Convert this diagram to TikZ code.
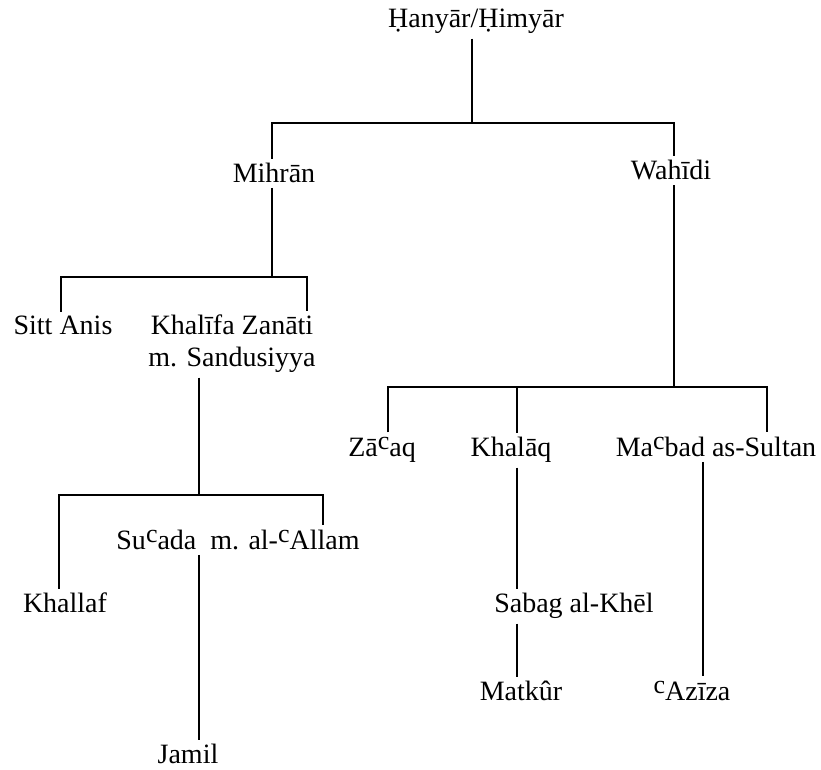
\documentclass[tikz,border=0pt]{standalone}
\usepackage{fontspec}
\setmainfont{Liberation Serif}
\usetikzlibrary{calc}
\newcommand{\ayn}{\raisebox{0.6ex}{\fontsize{13}{13}\selectfont c}}

\begin{document}
\begin{tikzpicture}[x=0.5pt,y=-0.5pt,
                person/.style={inner sep=2pt,anchor=base,
                font=\fontsize{14}{16}\selectfont,align=center},
                black,line width=0.6pt]
                \useasboundingbox (0,0) rectangle (821,770);
                % people
                \node[person] (hanyar) at (476,28) {Ḥanyār/Ḥimyār};
                \node[person] (mihran) at (274,183) {Mihrān};
                \node[person] (wahidi) at (671,180) {Wahīdi};
                \node[person] (sitt) at (63,335) {Sitt Anis};
                \node[person] (khalifa) at (232,367) {Khalīfa Zanāti\\m. Sandusiyya};
                \node[person] (khallaf) at (65,613) {Khallaf};
                \node[person] (suada) at (238,550) {Su\ayn{}ada\ \ m. al-\ayn{}Allam};
                \node[person] (jamil) at (188,764) {Jamil};
                \node[person] (zaaq) at (382,457) {Zā\ayn{}aq};
                \node[person] (khalaq) at (511,457) {Khalāq};
                \node[person] (mabad) at (716,457) {Ma\ayn{}bad as-Sultan};
                \node[person] (sabag) at (574,613) {Sabag al-Khēl};
                \node[person] (matkur) at (521,701) {Matkûr};
                \node[person] (aziza) at (692,701) {\ayn{}Azīza};
                % bars
                \coordinate (j1) at (472,123);
                \coordinate (b1l) at (272,123);
                \coordinate (b1r) at (674,123);
                \coordinate (j2) at (272,277);
                \coordinate (b2l) at (61,277);
                \coordinate (b2r) at (307,277);
                \coordinate (j3) at (199,495);
                \coordinate (b3l) at (59,495);
                \coordinate (b3r) at (323,495);
                \coordinate (j4) at (674,387);
                \coordinate (b4l) at (388,387);
                \coordinate (b4m) at (517,387);
                \coordinate (b4r) at (767,387);
                % lines of descent
                \draw (hanyar.south -| j1) -- (j1);
                \draw (mihran.north -| b1l) -- (b1l) -- (b1r) -- (wahidi.north -| b1r);
                \draw (mihran.south -| j2) -- (j2);
                \draw (sitt.north -| b2l) -- (b2l) -- (b2r) -- (khalifa.north -| b2r);
                \draw (khalifa.south -| j3) -- (j3);
                \draw (khallaf.north -| b3l) -- (b3l) -- (b3r) -- (suada.north -| b3r);
                \draw (suada.south -| j3) -- (jamil.north -| j3);
                \draw (wahidi.south -| j4) -- (j4);
                \draw (zaaq.north -| b4l) -- (b4l) -- (b4r) -- (mabad.north -| b4r);
                \draw (khalaq.north -| b4m) -- (b4m);
                \draw (khalaq.south -| b4m) -- (sabag.north -| b4m);
                \draw (sabag.south -| b4m) -- (matkur.north -| b4m);
                \draw (mabad.south -| 703,0) -- (aziza.north -| 703,0);
            \end{tikzpicture}
\end{document}
